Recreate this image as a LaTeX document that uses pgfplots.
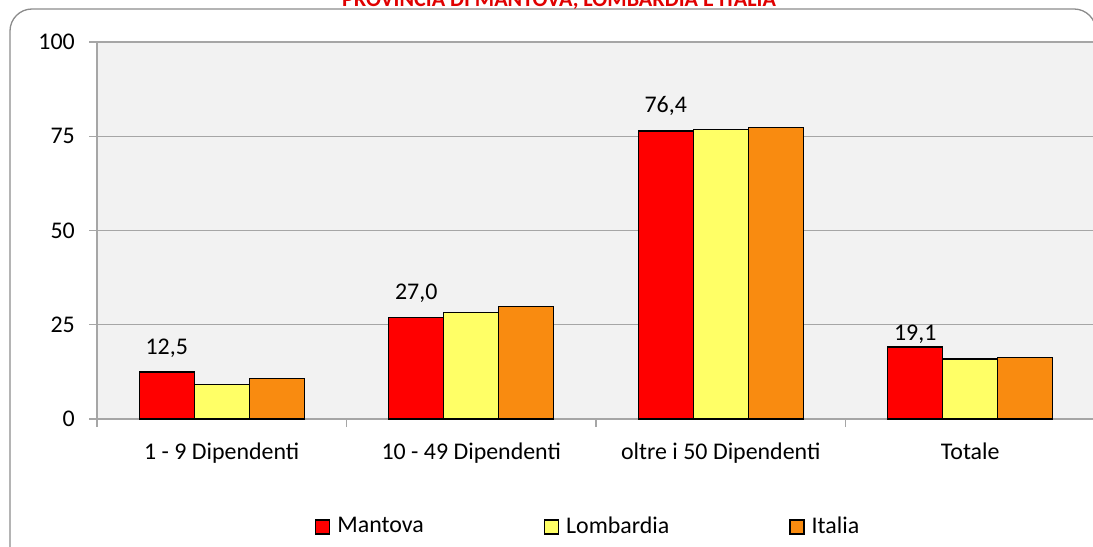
\documentclass[border=0pt]{standalone}
\usepackage{pgfplots}
\pgfplotsset{compat=1.18}
\usepackage{pgfplotstable}
\usepackage{fontspec}
\setmainfont{Carlito}
\definecolor{cRed}{HTML}{FF0000}
\definecolor{cYel}{HTML}{FFFF66}
\definecolor{cOra}{HTML}{F98B10}
\definecolor{cGrid}{HTML}{A6A6A6}
\definecolor{cBg}{HTML}{F2F2F2}
\definecolor{cBorder}{HTML}{8C8C8C}
\definecolor{cTitle}{HTML}{E00000}

\pgfplotstableread{
x y lab dy
0 12.5 12,5 6
1 27.0 27,0 6
2 76.4 76,4 7
3 19.1 19,1 -5
}\mantova
\pgfplotstableread{
x y
0 9.2
1 28.2
2 76.8
3 15.9
}\lombardia
\pgfplotstableread{
x y
0 10.8
1 29.9
2 77.3
3 16.4
}\italia

\begin{document}
\fontsize{24}{28}\selectfont
\begin{tikzpicture}[x=1bp,y=-1bp]
\useasboundingbox (0,0) rectangle (1093,547);
\draw[cBorder, line width=1.3bp, rounded corners=22bp] (10,9) rectangle (1096,575);
\node[font=\fontsize{22.2}{26}\selectfont\bfseries, text=cTitle, anchor=base] at (559,7) {PROVINCIA DI MANTOVA, LOMBARDIA E ITALIA};
\begin{axis}[
  at={(97bp,-419bp)}, anchor=south west,
  scale only axis, width=998bp, height=377bp,
  xmin=-0.5, xmax=3.5, ymin=0, ymax=100,
  axis background/.style={fill=cBg},
  axis x line*=bottom, axis y line*=left,
  axis line style={cGrid, line width=1.2bp},
  ybar=0pt, bar width=55bp,
  ytick={0,25,50,75,100},
  ymajorgrids, grid style={cGrid, line width=1.2bp},
  xtick={-0.5,0.5,1.5,2.5,3.5}, xticklabels={},
  extra x ticks={0,1,2,3},
  extra x tick labels={1 - 9 Dipendenti,10 - 49 Dipendenti,oltre i 50 Dipendenti,Totale},
  extra x tick style={major tick length=0pt, grid=none, xticklabel style={yshift=-16bp}},
  tick align=outside, major tick length=8bp,
  tick style={cGrid, line width=1.2bp},
  ticklabel style={font=\fontsize{24}{28}\selectfont},
  yticklabel style={xshift=-6bp},
  /pgf/number format/assume math mode=true,
  legend columns=3,
  legend style={draw=none, fill=none, at={(0.2154,-0.2865)}, anchor=west,
    font=\fontsize{24}{28}\selectfont,
    /tikz/every even column/.append style={column sep=118bp},
    /tikz/every odd column/.append style={column sep=0bp}},
  legend image code/.code={\draw[#1, line width=1.3bp] (0bp,-7bp) rectangle (14bp,7bp);},
  legend cell align=left,
  every axis plot/.append style={draw=black, line width=1.3bp},
]
\addplot[fill=cRed, draw=black,
  nodes near coords, point meta=explicit symbolic,
  visualization depends on={\thisrow{dy} \as \dy},
  nodes near coords style={font=\fontsize{24}{28}\selectfont, yshift=\dy, text=black}]
  table[x=x, y=y, meta=lab] {\mantova};
\addplot[fill=cYel, draw=black] table[x=x, y=y] {\lombardia};
\addplot[fill=cOra, draw=black] table[x=x, y=y] {\italia};
\legend{\hspace{5bp}Mantova, \hspace{5bp}Lombardia, \hspace{5bp}Italia}
\end{axis}
\end{tikzpicture}
\end{document}
